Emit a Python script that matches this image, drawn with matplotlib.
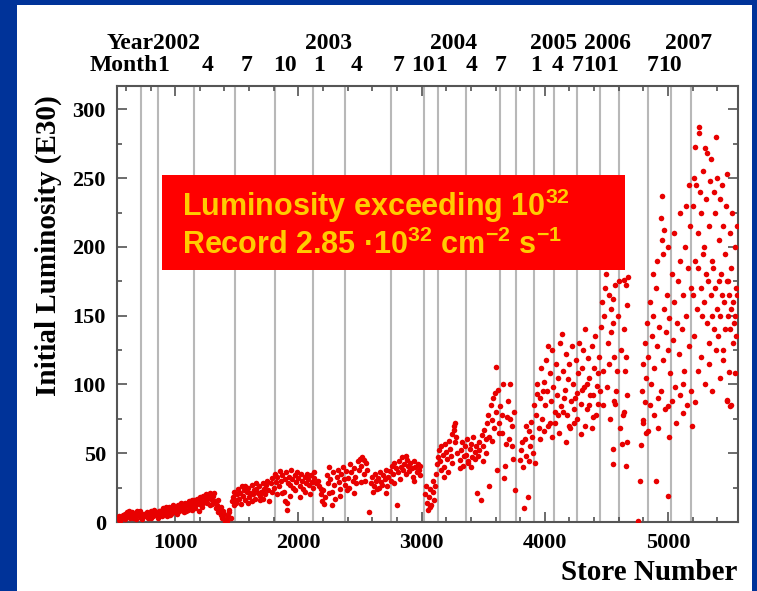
import numpy as np
import matplotlib.pyplot as plt
from matplotlib.patches import Rectangle
import matplotlib.transforms as mtransforms

plt.rcParams['mathtext.fontset'] = 'custom'
plt.rcParams['mathtext.rm'] = 'Liberation Sans:bold'
plt.rcParams['mathtext.bf'] = 'Liberation Sans:bold'
plt.rcParams['mathtext.default'] = 'rm'

# initial luminosity (E30) per store, grouped by running period
run_2002a = [(535,2),(545,4),(555,1),(565,3),(580,5),(590,6),(600,4),(610,7),(620,5),(630,3),(640,6),(650,7),
             (660,5),(670,4),(680,6),(690,8),(700,5),(710,7),(720,3),(730,2),(740,5),(750,4),(760,6),(770,7),
             (780,3),(790,5),(800,8),(810,6),(820,4),(830,9),(840,7),(850,5),(860,3),(870,6),(880,8),(890,7),
             (900,10),(910,6),(920,9),(930,4),(940,7),(950,11),(960,8),(970,6),(980,10),(990,9),(1000,7),
             (595,2),(625,8),(655,3),(685,2),(715,8),(745,6),(775,4),(805,3),(835,6),(865,8),(895,4),(925,11),
             (955,5),(985,12)]
run_2002b = [(1010,10),(1020,12),(1030,8),(1040,11),(1050,9),(1060,13),(1070,10),(1080,14),(1090,8),(1100,12),
             (1110,15),(1120,11),(1130,13),(1140,9),(1150,16),(1160,12),(1170,14),(1180,17),(1190,13),(1200,18),
             (1210,15),(1220,11),(1230,19),(1240,16),(1250,20),(1260,14),(1270,18),(1280,21),(1290,17),(1300,13),
             (1310,19),(1320,15),(1330,10),(1340,12),(1350,7),(1360,9),(1370,5),(1380,3),(1390,8),(1400,6),
             (1410,2),(1420,1),(1430,4),(1440,7),(1450,3),(1015,6),(1045,14),(1075,7),(1105,9),(1135,16),
             (1165,10),(1195,8),(1225,14),(1255,17),(1285,12),(1315,21),(1345,16),(1375,11),(1405,0),(1435,9)]
run_2002c = [(1460,15),(1470,18),(1480,22),(1490,14),(1500,20),(1510,24),(1520,17),(1530,21),(1540,26),(1550,19),
             (1560,23),(1570,16),(1580,22),(1590,25),(1600,18),(1610,21),(1620,27),(1630,20),(1640,23),(1650,17),
             (1660,24),(1670,21),(1680,26),(1690,19),(1700,22),(1710,28),(1720,24),(1730,20),(1740,27),(1750,23),
             (1760,15),(1475,12),(1505,16),(1535,13),(1565,26),(1595,14),(1625,15),(1655,28),(1685,16),(1715,17),
             (1745,30)]
run_2002d = [(1780,28),(1790,32),(1800,25),(1810,35),(1820,29),(1830,33),(1840,26),(1850,37),(1860,30),(1870,34),
             (1880,22),(1890,31),(1900,36),(1910,9),(1915,28),(1920,33),(1930,27),(1940,38),(1950,31),(1960,25),
             (1970,34),(1980,29),(1990,36),(2000,32),(2010,26),(2020,35),(2030,30),(2040,24),(2050,33),(2060,28),
             (2070,35),(2080,31),(2090,27),(2100,34),(2110,29),(2120,25),(2130,32),(2140,28),(1785,22),(1825,20),
             (1865,21),(1895,15),(1905,14),(1935,19),(1975,23),(2015,18),(2055,22),(2095,20),(2125,36)]
run_2003a = [(2160,30),(2170,26),(2180,20),(2190,15),(2200,23),(2210,13),(2220,18),(2230,34),(2240,28),(2250,40),
             (2260,31),(2270,22),(2280,36),(2290,27),(2300,17),(2310,33),(2320,38),(2330,29),(2340,24),(2350,35),
             (2360,40),(2370,31),(2380,27),(2390,37),(2400,32),(2410,25),(2420,42),(2430,36),(2440,30),(2450,39),
             (2460,33),(2470,28),(2480,44),(2490,38),(2500,46),(2510,41),(2520,47),(2530,35),(2540,30),(2550,43),
             (2560,38),(2570,7),(2185,24),(2245,21),(2275,12),(2335,19),(2395,23),(2455,21),(2505,29),(2535,45)]
run_2003b = [(2590,28),(2600,33),(2610,26),(2620,35),(2630,30),(2640,24),(2650,32),(2660,36),(2670,29),(2680,27),
             (2690,34),(2700,31),(2710,38),(2720,26),(2730,33),(2740,37),(2750,30),(2760,41),(2770,35),(2780,43),
             (2790,39),(2800,12),(2810,36),(2820,44),(2830,40),(2840,47),(2850,38),(2860,42),(2870,35),(2880,45),
             (2890,41),(2900,37),(2910,43),(2920,39),(2930,33),(2940,44),(2950,40),(2960,36),(2970,42),(2980,38),
             (2990,41),(2605,22),(2655,25),(2715,21),(2775,28),(2825,31),(2875,48),(2935,30),(2985,34)]
run_2004a = [(3030,20),(3040,14),(3050,9),(3060,18),(3070,24),(3080,12),(3090,22),(3100,16),(3110,26),(3120,35),
             (3130,47),(3140,52),(3150,44),(3160,55),(3170,49),(3180,40),(3190,57),(3200,51),(3210,46),(3220,59),
             (3230,53),(3240,48),(3250,64),(3260,70),(3265,67),(3270,58),(3280,62),(3290,50),(3035,26),(3065,11),
             (3095,30),(3125,42),(3155,38),(3185,33),(3215,36),(3245,43),(3275,72),
             (3310,45),(3320,52),(3330,58),(3340,41),(3350,55),(3360,49),(3370,60),(3380,44),(3390,53),(3400,57),
             (3410,47),(3420,62),(3430,51),(3440,55),(3450,21),(3460,48),(3470,58),(3480,16),(3490,63),(3500,55),
             (3510,67),(3520,60),(3530,72),(3315,39),(3345,48),(3375,43),(3405,40),(3435,46),(3465,52),(3495,44),
             (3525,50)]
run_2004b = [(3540,78),(3550,26),(3560,85),(3570,74),(3580,90),(3590,68),(3600,113),(3605,80),(3610,38),(3620,96),
             (3630,72),(3640,84),(3650,65),(3660,100),(3670,32),(3680,41),(3690,76),(3700,88),(3710,60),(3720,100),
             (3730,70),(3740,46),(3750,80),(3760,23),(3545,62),(3575,59),(3595,94),(3625,65),(3655,78),(3685,57),
             (3715,75),(3735,55),
             (3800,45),(3810,52),(3820,40),(3830,10),(3840,60),(3850,48),(3860,18),(3870,66),(3880,55),(3890,73),
             (3900,62),(3910,85),(3920,43),(3930,78),(3940,100),(3950,68),(3815,58),(3845,70),(3875,44),(3905,50),
             (3935,93)]
run_2005 = [(3960,90),(3970,112),(3980,75),(3990,102),(4000,85),(4010,118),(4020,95),(4030,70),(4040,108),(4050,88),
            (4060,125),(4070,98),(4080,80),(4090,115),(4100,92),(4110,105),(4120,130),(4130,84),(4140,137),(4150,110),
            (4160,96),(4170,122),(4180,78),(4190,104),(4200,115),(4210,88),(4220,128),(4230,100),(4240,72),(4250,118),
            (4260,94),(4270,108),(4280,130),(4290,86),(4300,112),(4310,125),(4320,98),(4330,140),(4340,82),(4350,119),
            (4360,105),(4370,92),(4380,128),(4390,76),(4400,112),(4410,135),(4420,99),(4430,86),(4440,120),
            (3965,60),(3995,66),(4025,128),(4055,62),(4085,72),(4115,65),(4145,80),(4175,58),(4205,68),(4235,82),
            (4265,75),(4295,64),(4325,70),(4355,85),(4385,68),(4415,78),(4445,95),(3985,95),(4045,72),(4105,78),
            (4155,90),(4195,70),(4245,90),(4305,96),(4345,100),(4395,92),(4435,108)]
run_2006 = [(4455,142),(4465,160),(4470,85),(4480,150),(4490,170),(4500,180),(4510,130),(4520,165),(4530,75),
            (4540,155),(4550,145),(4560,120),(4570,172),(4580,95),(4590,110),(4600,175),(4610,68),(4615,125),
            (4475,110),(4505,98),(4535,138),(4565,88),(4595,150),(4525,115),(4555,162),
            (4557,53),(4552,42),(4662,41),(4630,57),(4670,58),(4638,78),(4573,86),
            (4640,176),(4655,172),(4665,158),(4675,178),(4645,140),(4660,120),(4650,110),(4670,92),(4640,80),
            (4770,30),(4760,1),(4780,56),(4800,74),(4840,66),(4810,87),(4905,30),(5003,19),(5003,84),(5125,79),
            (5198,70),(5222,87),(5482,88),(5515,85)]
run_2007a = [(4790,95),(4800,115),(4810,130),(4820,105),(4830,145),(4840,120),(4850,160),(4860,100),(4870,135),
             (4880,150),(4890,112),(4900,170),(4910,128),(4920,90),(4930,142),(4940,221),(4950,237),(4960,118),
             (4970,155),(4980,138),(4990,165),(5000,125),(5010,148),(5020,108),(5030,180),(5040,132),(5050,160),
             (5060,98),(5070,145),(5080,175),(5090,122),(5100,190),(5110,140),(5120,165),(5130,110),(5140,200),
             (5150,150),(5160,185),(5170,128),(5180,215),(5190,170),
             (4795,72),(4825,65),(4855,85),(4885,78),(4915,68),(4945,95),(4975,82),(5005,62),(5035,88),(5065,72),
             (5095,92),(5125,100),(5155,85),(5185,95),
             (4950,205),(4960,195),(4965,212),(5000,200),(5050,210),(5100,225),(5150,230),(5170,245),(4880,180),
             (4910,190)]
run_2007b = [(5200,230),(5210,250),(5220,273),(5230,245),(5240,210),(5250,283),(5255,287),(5260,240),(5270,225),
             (5280,255),(5290,200),(5300,272),(5310,235),(5320,268),(5330,215),(5340,248),(5350,264),(5360,190),
             (5370,240),(5380,225),(5390,280),(5400,250),(5410,205),(5420,235),(5430,180),(5440,245),(5450,215),
             (5460,195),(5470,230),(5480,253),(5490,175),(5500,210),(5510,185),(5520,225),(5530,160),(5540,200),
             (5550,170),(5560,215),
             (5205,165),(5215,190),(5235,155),(5245,185),(5265,170),(5275,150),(5285,195),(5295,160),(5305,180),
             (5315,145),(5325,175),(5335,130),(5345,165),(5355,150),(5365,185),(5375,140),(5385,170),(5395,155),
             (5405,135),(5415,175),(5425,150),(5435,165),(5445,125),(5455,160),(5465,140),(5475,175),(5485,150),
             (5495,165),(5505,140),(5515,155),(5525,130),(5535,145),(5545,150),(5555,135),
             (5210,135),(5240,110),(5270,120),(5300,100),(5330,115),(5360,95),(5390,125),(5420,105),(5450,118),
             (5480,89),(5500,84),(5495,109),(5540,108),(5560,165)]

# first store of each month (gray lines)
month_starts = [721, 862, 1154, 1488, 1813, 2122, 2382, 2748, 3016, 3130, 3358, 3634, 3764,
                3910, 4073, 4260, 4447, 4602, 4837, 5024, 5187]

month_lbl = ['1', '4', '7', '10', '1', '4', '7', '10', '1', '4', '7', '1', '4', '7', '10', '1', '7', '10']
month_pos = [905, 1260, 1577, 1893, 2169, 2470, 2815, 3010, 3160, 3404, 3639, 3931, 4102, 4268, 4405,
             4545, 4873, 5019]
year_lbl = ['2002', '2003', '2004', '2005', '2006', '2007']
year_pos = [1008, 2242, 3257, 4069, 4508, 5166]

pts = np.array(run_2002a + run_2002b + run_2002c + run_2002d + run_2003a + run_2003b +
               run_2004a + run_2004b + run_2005 + run_2006 + run_2007a + run_2007b)

fig = plt.figure(figsize=(7.57, 5.91), dpi=100, facecolor='#003399')
fig.patches.append(Rectangle((17/757, 0), 735/757, 586/591, transform=fig.transFigure,
                             facecolor='white', edgecolor='none', zorder=-10))

ax = fig.add_axes([117/757, 69/591, 621/757, 436/591])
ax.set_facecolor('white')

serif = {'family': 'Liberation Serif', 'weight': 'bold'}

for m in month_starts:
    ax.axvline(m, color='#b8b8b8', lw=1.5, zorder=1)

ax.plot(pts[:, 0], pts[:, 1], 'o', ms=4.0, color='#e80000', mec='none', zorder=3)

ax.set_xlim(528, 5568)
ax.set_ylim(0, 317)
ax.set_xticks([1000, 2000, 3000, 4000, 5000])
ax.set_xticks(np.arange(600, 5568, 200), minor=True)
ax.set_yticks([0, 50, 100, 150, 200, 250, 300])
ax.set_yticks(np.arange(0, 317, 25), minor=True)
ax.tick_params(which='both', direction='in', top=True, right=True, width=1.1, color='#444444')
ax.tick_params(which='major', length=7, pad=8)
ax.tick_params(which='minor', length=3.5)
for lab in ax.get_xticklabels() + ax.get_yticklabels():
    lab.set_fontfamily('Liberation Serif')
    lab.set_fontweight('bold')
    lab.set_fontsize(16)
for sp in ax.spines.values():
    sp.set_color('#555555')
    sp.set_linewidth(1.5)

# year / month header above the frame
trans = mtransforms.blended_transform_factory(ax.transData, ax.transAxes)
for p, t in zip(year_pos, year_lbl):
    ax.text(p, 1.085, t, transform=trans, ha='center', va='baseline', fontsize=17, **serif)
for p, t in zip(month_pos, month_lbl):
    ax.text(p, 1.034, t, transform=trans, ha='center', va='baseline', fontsize=17, **serif)
ax.text(822, 1.085, 'Year', transform=trans, ha='right', va='baseline', fontsize=17, **serif)
ax.text(860, 1.034, 'Month', transform=trans, ha='right', va='baseline', fontsize=17, **serif)

fig.text(48/757, 1 - 246/591, 'Initial Luminosity (E30)', rotation=90, ha='center', va='center',
         fontsize=21, **serif)
fig.text(737/757, 1 - 580/591, 'Store Number', ha='right', va='baseline', fontsize=21, **serif)

# highlight box
fig.patches.append(Rectangle((162/757, 1 - 270/591), 463/757, 95/591, transform=fig.transFigure,
                             facecolor='#ff0000', edgecolor='none', zorder=5))
box_font = {'family': 'Liberation Sans', 'weight': 'bold', 'color': '#ffcc00', 'fontsize': 22, 'zorder': 6}
fig.text(182/757, 1 - 216/591, r'Luminosity exceeding $10^{32}$', va='baseline', **box_font)
fig.text(182/757, 1 - 254/591, r'Record 2.85 ·$10^{32}$ cm$^{-2}$ s$^{-1}$', va='baseline', **box_font)

fig.savefig('out.png', dpi=100, facecolor=fig.get_facecolor())
